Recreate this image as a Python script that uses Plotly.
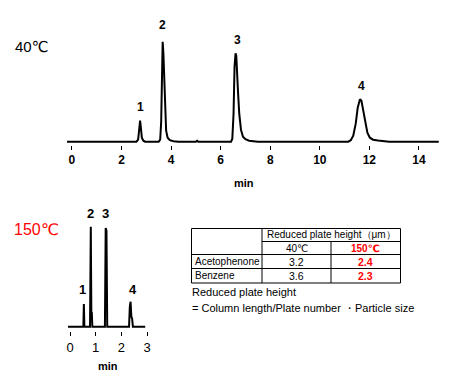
import plotly.graph_objects as go

W, H = 453, 378
OFF = 8  # default page margin of the html body

# ---------------- data ----------------
# 40 degC chromatogram: retention time (min) and detector signal (relative units)
t40 = [-0.2, 2.6, 2.67, 2.70, 2.72, 2.75, 2.78, 2.82, 2.88, 2.95,
       3.5, 3.56, 3.60, 3.63, 3.66, 3.69, 3.72, 3.76, 3.80, 3.86, 3.95, 4.1, 4.3,
       5.0, 5.05, 5.1,
       6.42, 6.47, 6.52, 6.56, 6.60, 6.63, 6.66, 6.70, 6.75, 6.82, 6.90, 7.0, 7.15, 7.35, 7.5,
       11.15, 11.25, 11.35, 11.45, 11.53, 11.62, 11.68, 11.75, 11.83, 11.92, 12.02, 12.15, 12.35, 12.6, 12.8,
       14.8]
s40 = [0, 0, 2, 12, 19, 21, 14, 4, 1, 0,
       0, 2, 20, 50, 100, 88, 62, 30, 11, 4, 1.5, 0.5, 0,
       0, 1, 0,
       0, 3, 28, 75, 88.5, 86, 75, 50, 28, 12, 5, 2.5, 1, 0.3, 0,
       0, 1.5, 6, 18, 34, 42.5, 41, 32, 18, 9, 4, 2, 1.2, 0.6, 0,
       0]
labels = ["1", "2", "3", "4"]
lab40_t = [2.75, 3.66, 6.68, 11.69]
lab40_s = [34.2, 116.2, 102.0, 55.4]
ticks40 = [0, 2, 4, 6, 8, 10, 12, 14]

# 150 degC chromatogram
t150 = [-0.08, 0.52, 0.54, 0.56, 0.78, 0.81, 0.83, 0.85, 0.87,
        1.36, 1.39, 1.42, 1.45,
        2.30, 2.33, 2.36, 2.39, 2.42, 2.45, 2.93]
s150 = [0, 0, 22.7, 0, 0, 100, 15, 14, 0,
        0, 98.7, 96, 0,
        0, 20, 25, 10, 8, 0, 0]
lab150_t = [0.49, 0.81, 1.40, 2.47]
lab150_s = [37.2, 112.9, 112.9, 37.2]
ticks150 = [0, 1, 2, 3]

# table
table_header = "Reduced plate height（μm）"
temps = ["40℃", "150℃"]
compounds = ["Acetophenone", "Benzene"]
h40 = ["3.2", "3.6"]
h150 = ["2.4", "2.3"]
note_lines = ["Reduced plate height",
              "= Column length/Plate number ・Particle size"]

FONT = "Liberation Sans, Arial, DejaVu Sans, sans-serif"
RED = "#ff0000"

FW, FH = W - OFF, H - OFF

# ---------------- figure ----------------
fig = go.Figure()
fig.add_trace(go.Scatter(x=t40, y=s40, mode="lines", xaxis="x", yaxis="y",
                         line=dict(color="black", width=2), hoverinfo="skip"))
fig.add_trace(go.Scatter(x=t150, y=s150, mode="lines", xaxis="x2", yaxis="y2",
                         line=dict(color="black", width=2), hoverinfo="skip"))

def px(xp):
    return (xp - OFF) / FW

def py(yp):
    return 1 - (yp - OFF) / FH

ann = []
def txt(text, x, y, size, color="black", bold=False, xanchor="center"):
    ann.append(dict(x=px(x), y=py(y), xref="paper", yref="paper", text=text,
                    showarrow=False, xanchor=xanchor, yanchor="middle",
                    font=dict(family=FONT, size=size, color=color,
                              weight="bold" if bold else "normal")))

# peak labels
for lt, ls, lab in zip(lab40_t, lab40_s, labels):
    ann.append(dict(x=lt, y=ls, xref="x", yref="y", text=lab, showarrow=False,
                    xanchor="center", yanchor="middle",
                    font=dict(family=FONT, size=12, color="black", weight="bold")))
for lt, ls, lab in zip(lab150_t, lab150_s, labels):
    ann.append(dict(x=lt, y=ls, xref="x2", yref="y2", text=lab, showarrow=False,
                    xanchor="center", yanchor="middle",
                    font=dict(family=FONT, size=13, color="black", weight="bold")))

txt("40℃", 32, 46, 15)
txt("150℃", 36, 229, 16, color=RED)
txt("min", 244, 183, 11, bold=True)
txt("min", 108, 366, 11, bold=True)

# table grid
shapes = []
def hline(x0, x1, y):
    shapes.append(dict(type="line", xref="paper", yref="paper", x0=px(x0), x1=px(x1),
                       y0=py(y), y1=py(y), line=dict(color="black", width=1)))
def vline(x, y0, y1):
    shapes.append(dict(type="line", xref="paper", yref="paper", x0=px(x), x1=px(x),
                       y0=py(y0), y1=py(y1), line=dict(color="black", width=1)))

L, C1, C2, R = 191.5, 262, 331, 400.5
Y0, Y1, Y2, Y3, Y4 = 228.5, 241.5, 254.5, 268.5, 283
hline(L, R, Y0); hline(C1, R, Y1); hline(L, R, Y2); hline(L, R, Y3); hline(L, R, Y4)
vline(L, Y0, Y4); vline(C1, Y0, Y4); vline(C2, Y1, Y4); vline(R, Y0, Y4)

txt(table_header, (C1 + R) / 2, (Y0 + Y1) / 2, 10)
txt(temps[0], (C1 + C2) / 2, (Y1 + Y2) / 2, 10)
txt(temps[1], (C2 + R) / 2, (Y1 + Y2) / 2, 10, color=RED, bold=True)
for i, yc in enumerate([(Y2 + Y3) / 2, (Y3 + Y4) / 2]):
    txt(compounds[i], L + 1, yc, 10, xanchor="left")
    txt(h40[i], (C1 + C2) / 2, yc, 10.5)
    txt(h150[i], (C2 + R) / 2, yc, 10.5, color=RED, bold=True)

txt(note_lines[0], 190, 292, 11, xanchor="left")
txt(note_lines[1], 190, 308, 11, xanchor="left")

axis_common = dict(showgrid=False, zeroline=False, showline=False, ticks="outside",
                   ticklen=4, tickwidth=1, tickcolor="black", fixedrange=True)
fig.update_layout(
    width=FW, height=FH, margin=dict(l=0, r=0, t=0, b=0),
    paper_bgcolor="white", plot_bgcolor="white", showlegend=False,
    xaxis=dict(domain=[px(67), px(440)], range=[-0.2, 14.85], anchor="y",
               tickvals=ticks40, tickfont=dict(family=FONT, size=12, color="black", weight="bold"),
               **axis_common),
    yaxis=dict(domain=[py(145), py(141.7 - 125)], range=[-3.3, 125], visible=False, fixedrange=True),
    xaxis2=dict(domain=[px(60), px(152)], range=[-0.39, 3.194], anchor="y2",
                tickvals=ticks150, tickfont=dict(family=FONT, size=13, color="black"),
                **axis_common),
    yaxis2=dict(domain=[py(331), py(326.7 - 125)], range=[-4.3, 125], visible=False, fixedrange=True),
    annotations=ann, shapes=shapes,
)

fig.write_html("out.html")
